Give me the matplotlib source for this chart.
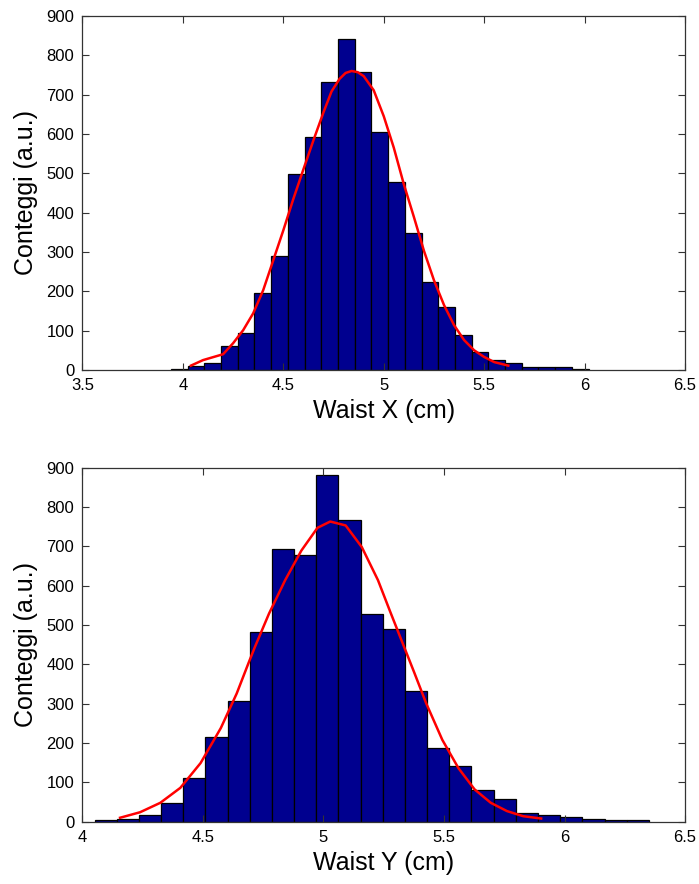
import numpy as np
import matplotlib
matplotlib.use('Agg')
import matplotlib.pyplot as plt

plt.rcParams['font.family'] = ['Liberation Sans', 'DejaVu Sans']

# Waist X histogram (25 bins)
x_bin_min, x_bin_max = 3.94, 6.02
x_counts = [3, 11, 18, 60, 95, 196, 290, 499, 591, 731, 841, 758, 604,
            478, 349, 224, 160, 88, 46, 25, 18, 7, 7, 7, 3]
# fitted curve
x_fit_x = [4.04, 4.1, 4.2, 4.25, 4.3, 4.35, 4.4, 4.45, 4.5, 4.55, 4.6, 4.65,
           4.7, 4.74, 4.78, 4.81, 4.84, 4.87, 4.9, 4.95, 5.0, 5.05, 5.1, 5.15,
           5.2, 5.25, 5.3, 5.35, 5.4, 5.45, 5.5, 5.55, 5.62]
x_fit_y = [11, 25, 40, 68, 101, 144, 203, 279, 355, 435, 510, 584, 655, 708,
           740, 755, 760, 757, 747, 711, 645, 565, 472, 389, 303, 228, 165,
           114, 76, 50, 33, 20, 11]

# Waist Y histogram (25 bins)
y_bin_min, y_bin_max = 4.05, 6.35
y_counts = [3, 8, 18, 48, 111, 214, 307, 482, 693, 677, 881, 766, 528,
            489, 333, 187, 142, 80, 58, 21, 17, 13, 7, 3, 3]
y_fit_x = [4.156, 4.239, 4.323, 4.406, 4.49, 4.574, 4.64, 4.69, 4.716, 4.774,
           4.841, 4.908, 4.975, 5.028, 5.092, 5.159, 5.226, 5.276, 5.334,
           5.376, 5.426, 5.493, 5.56, 5.627, 5.694, 5.761, 5.828, 5.903]
y_fit_y = [10, 24, 48, 86, 149, 238, 326, 405, 445, 529, 614, 689, 747, 763,
           753, 698, 614, 535, 445, 380, 301, 208, 136, 82, 48, 27, 14, 8]

x_ticks = [3.5, 4, 4.5, 5, 5.5, 6, 6.5]
x_ticklabels = ['3.5', '4', '4.5', '5', '5.5', '6', '6.5']
y_ticks_b = [4, 4.5, 5, 5.5, 6, 6.5]
y_ticklabels_b = ['4', '4.5', '5', '5.5', '6', '6.5']
count_ticks = list(range(0, 901, 100))

fig = plt.figure(figsize=(6.99, 8.84), dpi=100)
ax1 = fig.add_axes([0.118, 0.5815, 0.862, 0.4005])
ax2 = fig.add_axes([0.118, 0.0705, 0.862, 0.4005])


def draw(ax, bmin, bmax, counts, fx, fy, xlim, ticks, labels, xlabel):
    edges = np.linspace(bmin, bmax, len(counts) + 1)
    ax.bar(edges[:-1], counts, width=np.diff(edges), align='edge',
           color='#00008F', edgecolor='black', linewidth=0.9)
    ax.plot(fx, fy, color='red', linewidth=1.8, solid_joinstyle='round')
    ax.set_xlim(xlim)
    ax.set_ylim(0, 900)
    ax.set_xticks(ticks)
    ax.set_xticklabels(labels)
    ax.set_yticks(count_ticks)
    ax.tick_params(direction='in', top=True, right=True, length=5,
                   width=0.8, color='#333333', labelsize=12, pad=6)
    for s in ax.spines.values():
        s.set_color('#333333')
        s.set_linewidth(0.9)
    ax.set_xlabel(xlabel, fontsize=18, labelpad=4)
    ax.set_ylabel('Conteggi (a.u.)', fontsize=18, labelpad=6)


draw(ax1, x_bin_min, x_bin_max, x_counts, x_fit_x, x_fit_y, (3.5, 6.5),
     x_ticks, x_ticklabels, 'Waist X (cm)')
draw(ax2, y_bin_min, y_bin_max, y_counts, y_fit_x, y_fit_y, (4, 6.5),
     y_ticks_b, y_ticklabels_b, 'Waist Y (cm)')

fig.savefig('out.png', dpi=100)
